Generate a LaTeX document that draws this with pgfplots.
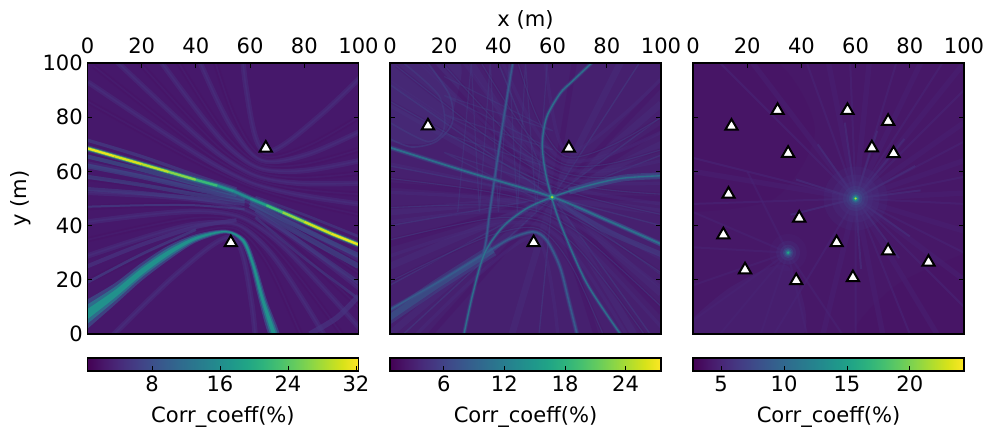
\documentclass[border=0pt]{standalone}
\usepackage{fontspec}
\setmainfont{DejaVu Sans}
\usepackage{pgfplots}
\usepackage{pgfplotstable}
\pgfplotsset{compat=1.18}
\definecolor{vA}{HTML}{440154}
\definecolor{vB}{HTML}{471365}
\definecolor{vC}{HTML}{482475}
\definecolor{vD}{HTML}{463480}
\definecolor{vE}{HTML}{414487}
\definecolor{vF}{HTML}{3B528B}
\definecolor{vG}{HTML}{355F8D}
\definecolor{vH}{HTML}{2A788E}
\definecolor{vI}{HTML}{21918C}
\definecolor{vJ}{HTML}{22A884}
\definecolor{vK}{HTML}{44BF70}
\definecolor{vL}{HTML}{7AD151}
\definecolor{vM}{HTML}{BDDF26}
\definecolor{vN}{HTML}{FDE725}
\definecolor{bgA}{HTML}{46186B}
\definecolor{bgB}{HTML}{46206F}
\definecolor{bgC}{HTML}{471868}
\newcommand{\fs}{\fontsize{15.8}{17}\selectfont}
\pgfplotsset{
  /pgf/number format/assume math mode=true,
  every axis/.append style={font=\fs},
  panel/.style={
    anchor=south west, scale only axis, width=203.25pt, height=203.25pt,
    xmin=0, xmax=100, ymin=0, ymax=100,
    xtick={0,20,40,60,80,100}, ytick={0,20,40,60,80,100},
    xticklabel pos=upper, xtick pos=upper, ytick pos=both,
    xticklabel style={yshift=3.5pt},
    tick align=inside, major tick length=3.4pt,
    every tick/.style={black,line width=0.6pt},
    axis line style={line width=0.95pt},
    axis on top, clip=true,
    every axis x label/.style={at={(axis description cs:0.5,1)},anchor=center,yshift=32.6pt},
    every axis y label/.style={at={(axis description cs:0,0.5)},anchor=center,xshift=-49.85pt,rotate=90},
    colorbar horizontal, colormap/viridis,
  },
  bar/.style={
    at={(0,-0.0886)}, anchor=north west, scale only axis,
    width=203.25pt, height=9.75pt,
    xtick pos=lower, xticklabel pos=lower, tick align=inside,
    major tick length=3.4pt, every tick/.style={black,line width=0.6pt},
    axis line style={line width=0.95pt},
    xlabel={Corr\textunderscore coeff(\%)},
    every axis x label/.style={at={(axis description cs:0.5,0)},anchor=center,yshift=-34.5pt},
  },
  st/.style={only marks, mark=triangle*, mark size=5.3pt,
    mark options={fill=white,draw=black,line width=1.5pt}},
  cv/.style={no markers, smooth, forget plot},
  fillp/.style={no markers, draw=none, smooth, forget plot},
  glow/.style n args={3}{only marks, mark=*, mark size=#2, forget plot,
    mark options={draw opacity=0, fill=#1, fill opacity=#3}},
  star/.style={no markers, sharp plot, forget plot, line join=bevel},
}
\newcommand{\familyAB}[4]{%
 \addplot[cv,draw=#1,line width=#3,opacity=#4] coordinates {(-2.1,87)(28.9,69.7)(46.7,60.3)(60.5,54.3)(74.9,49.9)(94.5,45.3)(129.3,38.2)};
 \addplot[cv,draw=#2,line width=#3,opacity=#4] coordinates {(0.1,93)(30.1,73)(47.4,62.2)(61,55.7)(75.6,51.8)(95.7,48.6)(131.5,44.2)};
 \addplot[cv,draw=#1,line width=#3,opacity=#4] coordinates {(2.3,98.9)(31.3,76.2)(48.1,64.1)(61.6,57.1)(76.3,53.7)(96.9,51.8)(133.7,50.1)};
 \addplot[cv,draw=#2,line width=#3,opacity=#4] coordinates {(5,106)(32.7,80)(48.9,66.1)(62.1,58.5)(77,55.7)(98.3,55.6)(136.4,57.2)};
 \addplot[cv,draw=#1,line width=#3,opacity=#4] coordinates {(7.6,113)(34.1,83.7)(49.6,68.1)(62.6,59.9)(77.8,57.7)(99.7,59.3)(139,64.2)};
 \addplot[cv,draw=#2,line width=#3,opacity=#4] coordinates {(11.2,122.5)(35.9,88.5)(50.5,70.5)(63.1,61.4)(78.7,60.2)(101.5,64.2)(142.5,73.8)};
 \addplot[cv,draw=#1,line width=#3,opacity=#4] coordinates {(14.7,132)(37.7,93.4)(51.5,73)(63.7,62.8)(79.7,62.6)(103.3,69)(146.1,83.4)};
 \addplot[cv,draw=#2,line width=#3,opacity=#4] coordinates {(20.9,149)(40.8,101.9)(52.9,76.7)(64.2,64.2)(81,66.2)(106.4,77.5)(152,100)};
 \addplot[cv,draw=#1,line width=#3,opacity=#4] coordinates {(27.1,165.8)(44,110.3)(54.2,80.3)(64.7,65.6)(82.4,69.9)(109.6,85.9)(158,117)};
 \addplot[cv,draw=#2,line width=#3,opacity=#4] coordinates {(54.3,138)(58.4,91.7)(65.4,67.4)(86.6,81.3)(119.9,113.8)};
 \addplot[cv,draw=#2,line width=#3,opacity=#4] coordinates {(-10.3,64.8)(24.5,57.7)(44.1,53.1)(58.5,48.7)(72.3,42.7)(90.1,33.3)(121.1,16)};
 \addplot[cv,draw=#1,line width=#3,opacity=#4] coordinates {(-12.5,58.9)(23.3,54.5)(43.4,51.2)(58,47.3)(71.6,40.8)(88.9,30)(118.9,10)};
 \addplot[cv,draw=#2,line width=#3,opacity=#4] coordinates {(-14.7,52.9)(22.1,51.2)(42.7,49.3)(57.4,45.9)(70.9,38.9)(87.7,26.8)(116.7,4.1)};
 \addplot[cv,draw=#1,line width=#3,opacity=#4] coordinates {(-17.4,45.8)(20.7,47.5)(42,47.3)(56.9,44.5)(70.2,36.9)(86.3,23)(114,-3)};
 \addplot[cv,draw=#2,line width=#3,opacity=#4] coordinates {(-20,38.8)(19.3,43.7)(41.2,45.3)(56.4,43.1)(69.4,34.9)(84.9,19.3)(111.4,-10)};
 \addplot[cv,draw=#1,line width=#3,opacity=#4] coordinates {(-23.5,29.2)(17.5,38.8)(40.2,42.9)(55.9,41.6)(68.4,32.5)(83.1,14.5)(107.9,-19.6)};
 \addplot[cv,draw=#2,line width=#3,opacity=#4] coordinates {(-27.1,19.6)(15.7,34)(39.3,40.4)(55.3,40.2)(67.5,30)(81.3,9.6)(104.3,-29.2)};
 \addplot[cv,draw=#1,line width=#3,opacity=#4] coordinates {(-33,2.8)(12.5,25.5)(38,36.7)(54.8,38.8)(66.2,26.4)(78.1,1.1)(98,-46)};
 \addplot[cv,draw=#2,line width=#3,opacity=#4] coordinates {(-0.9,-10.8)(32.4,21.7)(53.6,35.6)(60.6,11.3)(64.7,-35.2)};
}
\pgfplotstableread{
x y z
0 68.5 31.5
10 65.6 31
20 62.7 30
30 59.8 28
40 56.9 25
48 54.7 19
54 52.7 15
60 50 16
66 47.5 20
72 44.9 25
80 41.4 29
90 37 31
100 33 31.5
}\mainA
\pgfplotstableread{
x y
0 68.8
30 59.4
60 50.5
80 42
100 33.2
}\mainB
\pgfplotstableread{
x y
45.3 100
42 80
38.6 57.4
36.8 45
35.5 34.6
34.5 29.7
}\vertB
\pgfplotstableread{
x y
74.4 100
67 93
62.7 88.7
57.8 80
56.2 70.3
57.2 60.5
59.6 50.6
63.3 39.6
72.6 18.7
85 0
}\hypB
\pgfplotstableread{
x y
27.3 0
30.6 15
34.9 29.8
41.7 39.6
50.4 46.3
59.6 50.4
71.4 54.3
85 57.4
100 58.4
}\arcB
\pgfplotstableread{
x y
0 9
17 18.7
34 29
44 35
52.8 37.7
57.8 34.6
62.7 24.8
66 12
69 0
}\humpB
\newcommand{\ridge}[5]{%
 \addplot[cv,draw=#3,line width=#5,opacity=.3] table {#1};
 \addplot[cv,draw=#3,line width=#4+0.4*#5,opacity=.45] table {#1};
 \addplot[cv,draw=#2,line width=#4,opacity=.85] table {#1};
}
\begin{document}
\begin{tikzpicture}
\path[use as bounding box] (0,0) rectangle (740.25pt,322.5pt);

% ---------- panel 1 ----------
\begin{axis}[panel, at={(65.6pt,72pt)},
  axis background/.style={fill=bgA},
  ylabel={y (m)},
  point meta min=0.4, point meta max=32.3,
  colorbar style={bar, xtick={8,16,24,32}},
]
\familyAB{vB}{vD}{4pt}{0.45}
\familyAB{vC}{vD}{1.2pt}{0.45}
% blue streaks round the main ridge
\addplot[cv,draw=vF,line width=3.5pt,opacity=.55] coordinates {(0,62)(20,58)(40,53.5)(58,49.8)};
\addplot[cv,draw=vF,line width=3pt,opacity=.5] coordinates {(0,58)(20,55)(40,51.5)(58,49)};
\addplot[cv,draw=vE,line width=3pt,opacity=.5] coordinates {(0,53.5)(20,52)(40,50)(58,48)};
\addplot[cv,draw=vG,line width=3pt,opacity=.55] coordinates {(0,65.5)(20,60.6)(40,55.4)(55,51.2)};
\addplot[cv,draw=vE,line width=2.5pt,opacity=.6] coordinates {(0,71.5)(20,65.5)(40,58.5)(55,53.5)};
\addplot[cv,draw=vE,line width=1.5pt,opacity=.6] coordinates {(0,47)(20,47.5)(40,47.5)(58,46)};
\addplot[cv,draw=vF,line width=3.5pt,opacity=.6] coordinates {(60,48.5)(80,38.5)(100,29)};
\addplot[cv,draw=vF,line width=4pt,opacity=.55] coordinates {(60,47.5)(80,36)(100,25)};
\addplot[cv,draw=vE,line width=3pt,opacity=.5] coordinates {(62,45.5)(80,33)(100,19)};
\addplot[cv,draw=vE,line width=2pt,opacity=.5] coordinates {(62,43)(80,28)(100,13)};
\addplot[cv,draw=vE,line width=2pt,opacity=.5] coordinates {(62,50.5)(80,44)(100,36)};
\addplot[cv,draw=vD,line width=3pt,opacity=.7] coordinates {(0,25)(20,33)(40,39.5)(55,42)};
\addplot[cv,draw=vE,line width=2pt,opacity=.6] coordinates {(0,19)(20,29.5)(40,38.5)};
\addplot[cv,draw=vD,line width=4pt,opacity=.7] coordinates {(82,0)(92,6)(100,14)};
% lower curved ridge
\addplot[fillp,fill=vF,opacity=.7] coordinates {(-0.5,12.5)(10,18.7)(20,26.3)(30,32.7)(40,36.8)(51,38.5)(58.2,35.1)(62,26.5)(66.2,12.5)(71,-0.5)(67,-0.5)(63.2,12.5)(60,25.5)(56.6,33.9)(51,37.1)(40,33.8)(30,27.3)(20,19.7)(10,10.7)(-0.5,1.5)};
\addplot[fillp,fill=vH,opacity=.8] coordinates {(-0.5,10.6)(10,17.3)(20,25.1)(30,31.8)(40,36.3)(51,38.25)(57.9,34.9)(61.65,26.2)(65.7,12.5)(70.3,-0.5)(67.7,-0.5)(63.7,12.5)(60.35,25.8)(56.9,34.1)(51,37.35)(40,34.3)(30,28.2)(20,20.9)(10,12.1)(-0.5,3.4)};
\addplot[fillp,fill=vI] coordinates {(-0.5,8.9)(10,16.1)(20,24.2)(30,30.9)(40,35.8)(51,38)(57.7,34.8)(61.35,26.1)(65.2,12.5)(69.7,-0.5)(68.3,-0.5)(64.2,12.5)(60.65,25.9)(57.1,34.3)(51,37.6)(40,34.8)(30,29.1)(20,21.8)(10,13.3)(-0.5,5.1)};
% main ridge
\addplot[cv,draw=vH,line width=4.6pt,opacity=.4] table {\mainA};
\addplot[no markers,forget plot,mesh,point meta=explicit,line width=2.9pt,opacity=.75] table[meta expr=\thisrow{z}*0.75] {\mainA};
\addplot[no markers,forget plot,mesh,point meta=explicit,line width=1.7pt] table[meta=z] {\mainA};
\addplot[st] coordinates {(65.8,68.6)(52.9,33.7)};
\end{axis}

% ---------- panel 2 ----------
\begin{axis}[panel, at={(292.5pt,72pt)},
  axis background/.style={fill=bgB},
  yticklabels={},
  xlabel={x (m)},
  point meta min=0.68, point meta max=27.5,
  colorbar style={bar, xtick={6,12,18,24}},
]
\addplot[fillp,fill=vD,opacity=.4] coordinates {(-1,101)(25,101)(24,85)(20,74)(12,70)(-1,71)};
\addplot[star,draw=vD,line width=5pt,opacity=.35] coordinates {(60,50.5)(100,85)(60,50.5)(100,70)(60,50.5)(100,45)(60,50.5)(100,15)(60,50.5)(90,0)(60,50.5)(45,0)(60,50.5)(0,0)(60,50.5)(0,25)(60,50.5)(0,45)(60,50.5)(0,85)(60,50.5)(30,100)(60,50.5)(85,100)};
\addplot[star,draw=vB,line width=4pt,opacity=.4] coordinates {(60,50.5)(100,92)(60,50.5)(100,76)(60,50.5)(100,50)(60,50.5)(100,8)(60,50.5)(76,0)(60,50.5)(15,0)(60,50.5)(0,33)(60,50.5)(0,55)(60,50.5)(15,100)(60,50.5)(68,100)};
\addplot[star,draw=vE,line width=1pt,opacity=.45] coordinates {(60,50.5)(100,80)(60,50.5)(100,66)(60,50.5)(100,40)(60,50.5)(100,22)(60,50.5)(96,0)(60,50.5)(55,0)(60,50.5)(5,0)(60,50.5)(0,18)(60,50.5)(0,40)(60,50.5)(0,62)(60,50.5)(0,92)(60,50.5)(40,100)(60,50.5)(92,100)};
\familyAB{vB}{vD}{2.5pt}{0.3}
\familyAB{vE}{vC}{0.8pt}{0.45}
\addplot[star,draw=vE,line width=0.9pt,opacity=.35] coordinates {(25,45)(30,100)(33,45)(37,100)(40,45)(44,100)(47,45)(50,100)(54,45)(58,100)};
\addplot[star,draw=vE,line width=0.9pt,opacity=.35] coordinates {(20,95)(60,75)(20,88)(60,68)(20,81)(60,61)(20,74)(60,54)(20,67)(60,47)};
\addplot[cv,draw=vE,line width=1.2pt,opacity=.5] coordinates {(14,100)(22,88)(23,78)(17,71)(8,69)(0,72)};
\addplot[cv,draw=vE,line width=1.2pt,opacity=.4] coordinates {(5,100)(18,88)(20,76)(14,71)(0,78)};
\addplot[cv,draw=vF,line width=9pt,opacity=.4] coordinates {(-1,5.5)(17,17.7)(30,26)(38,31)};
\addplot[cv,draw=vG,line width=4.5pt,opacity=.5] coordinates {(-1,5.5)(17,17.7)(30,26)(38,31)};
\addplot[cv,draw=vF,line width=5pt,opacity=.6] coordinates {(66,52.7)(85,57.4)(101,58.4)};
\addplot[cv,draw=vE,line width=4pt,opacity=.5] coordinates {(62,48.5)(80,38)(101,29)};
\addplot[cv,draw=vF,line width=3pt,opacity=.5] coordinates {(68,47)(85,40)(101,32.5)};
\ridge{\humpB}{vG}{vF}{1.1pt}{3.4pt}
\ridge{\vertB}{vG}{vF}{1pt}{2.8pt}
\ridge{\hypB}{vH}{vF}{1pt}{3pt}
\ridge{\arcB}{vH}{vF}{1pt}{3pt}
\ridge{\mainB}{vH}{vF}{1.3pt}{3.8pt}
\addplot[glow={vI}{2.6pt}{.6}] coordinates {(59.8,50.5)};
\addplot[glow={vK}{1.4pt}{1}] coordinates {(59.8,50.5)};
\addplot[glow={vM}{0.8pt}{1}] coordinates {(59.8,50.5)};
\addplot[st] coordinates {(14,76.8)(66,68.6)(53,33.7)};
\end{axis}

% ---------- panel 3 ----------
\begin{axis}[panel, at={(519.75pt,72pt)},
  axis background/.style={fill=bgC},
  yticklabels={},
  point meta min=2.77, point meta max=24.3,
  colorbar style={bar, xtick={5,10,15,20}},
]
\addplot[fillp,fill=vB,opacity=.6] coordinates {(-1,101)(30,101)(45,75)(30,50)(-1,45)};
\addplot[fillp,fill=vB,opacity=.6] coordinates {(101,-1)(60,-1)(75,18)(101,30)};
\addplot[fillp,fill=vC,opacity=.5] coordinates {(-1,-1)(40,-1)(35,25)(15,18)(-1,5)};
\addplot[star,draw=vC,line width=4pt,opacity=.4] coordinates {(60,50)(100,52)(60,50)(100,64)(60,50)(100,78)(60,50)(100,100)(60,50)(84,100)(60,50)(65,100)(60,50)(50,100)(60,50)(100,38)(60,50)(100,20)(60,50)(90,0)(60,50)(70,0)(60,50)(48,0)(60,50)(0,60)(60,50)(22,100)};
\addplot[star,draw=vC,line width=1.5pt,opacity=.6] coordinates {(60,50)(100,48)(60,50)(100,58)(60,50)(100,71)(60,50)(100,90)(60,50)(92,100)(60,50)(75,100)(60,50)(58,100)(60,50)(42,100)(60,50)(100,30)(60,50)(100,10)(60,50)(80,0)(60,50)(60,0)(60,50)(30,0)(60,50)(0,48)(60,50)(10,100)(60,50)(0,65)};
\addplot[star,draw=vD,line width=1.5pt,opacity=.5] coordinates {(60,50)(84,53)(60,50)(82,62)(60,50)(78,72)(60,50)(68,75)(60,50)(56,78)(60,50)(46,70)(60,50)(38,57)(60,50)(36,44)(60,50)(80,36)(60,50)(76,28)(60,50)(62,24)};
\addplot[star,draw=vC,line width=1.5pt,opacity=.5] coordinates {(35,30)(0,18)(35,30)(0,5)(35,30)(10,0)(35,30)(25,0)(35,30)(42,0)(35,30)(55,0)(35,30)(0,32)(35,30)(0,45)(35,30)(20,60)};
\addplot[glow={vD}{24pt}{.2}] coordinates {(60,50)};
\addplot[glow={vD}{18pt}{.25}] coordinates {(60,50)};
\addplot[glow={vD}{13pt}{.3}] coordinates {(60,50)};
\addplot[glow={vE}{9.5pt}{.3}] coordinates {(60,50)};
\addplot[glow={vE}{7pt}{.4}] coordinates {(60,50)};
\addplot[glow={vF}{5pt}{.5}] coordinates {(60,50)};
\addplot[glow={vG}{3.6pt}{.6}] coordinates {(60,50)};
\addplot[glow={vH}{2.6pt}{.7}] coordinates {(60,50)};
\addplot[glow={vI}{1.8pt}{.9}] coordinates {(60,50)};
\addplot[glow={vK}{1.2pt}{1}] coordinates {(60,50)};
\addplot[glow={vM}{0.7pt}{1}] coordinates {(60,50)};
\addplot[glow={vC}{14pt}{.3}] coordinates {(35.1,30)};
\addplot[glow={vD}{9pt}{.3}] coordinates {(35.1,30)};
\addplot[glow={vE}{6pt}{.35}] coordinates {(35.1,30)};
\addplot[glow={vF}{4pt}{.5}] coordinates {(35.1,30)};
\addplot[glow={vG}{2.8pt}{.6}] coordinates {(35.1,30)};
\addplot[glow={vH}{1.8pt}{.8}] coordinates {(35.1,30)};
\addplot[glow={vJ}{1pt}{1}] coordinates {(35.1,30)};
\addplot[st] coordinates {(31.2,82.5)(14.2,76.7)(35.1,66.7)(57,82.5)(72,78.5)(66,68.7)(74,66.6)(13.1,51.6)(39.2,42.8)(11.2,36.6)(53,33.7)(72,30.7)(86.9,26.5)(19.2,23.7)(38.1,19.7)(59,20.8)};
\end{axis}
\end{tikzpicture}
\end{document}
